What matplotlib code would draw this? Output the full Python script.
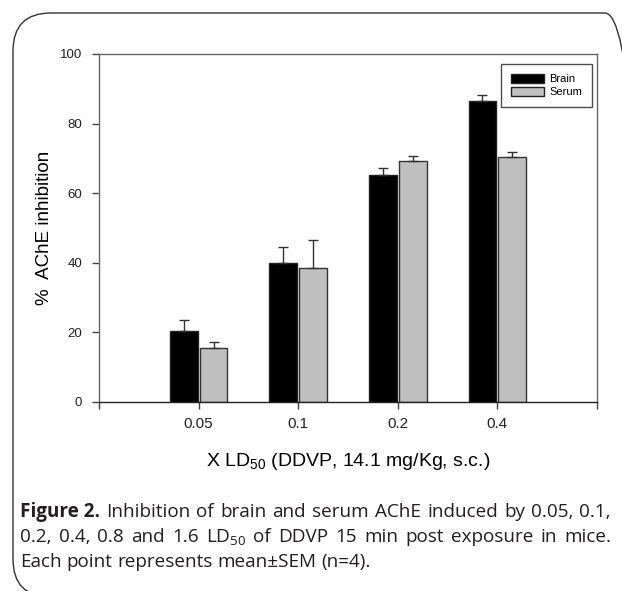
import matplotlib
matplotlib.use('Agg')
import matplotlib.pyplot as plt
from matplotlib.patches import FancyBboxPatch, Patch
from matplotlib.transforms import IdentityTransform
import numpy as np

# data
doses = ['0.05', '0.1', '0.2', '0.4']
brain = [20.3, 40.0, 65.2, 86.5]
brain_err = [3.2, 4.5, 2.0, 1.7]
serum = [15.5, 38.5, 69.3, 70.4]
serum_err = [1.7, 8.0, 1.4, 1.4]

caption = [
    ('Figure 2.', 'Inhibition of brain and serum AChE induced by 0.05, 0.1,', True),
    ('', r'0.2, 0.4, 0.8 and 1.6 LD$\mathregular{_{50}}$ of DDVP 15 min post exposure in mice.', True),
    ('', 'Each point represents mean±SEM (n=4).', False),
]

W, H = 622, 591
fig = plt.figure(figsize=(W/100, H/100), dpi=100)

# rounded frame round the whole figure (pixel coords)
frame = FancyBboxPatch((13, -6), 630, H - 13 + 6,
                       boxstyle='round,pad=0,rounding_size=38',
                       transform=IdentityTransform(), fill=False,
                       edgecolor='#333333', linewidth=1.0)
fig.patches.append(frame)

ax = fig.add_axes([99/W, 1-402/H, (597-99)/W, (402-54)/H])
x = np.arange(1, len(doses)+1)
bw = 0.28
ekw = dict(ecolor='#333333', elinewidth=1, capsize=3.7, capthick=1)
ax.bar(x - bw/2 - 0.01, brain, bw, color='black', edgecolor='#222222', linewidth=1,
       yerr=[np.zeros(4), brain_err], error_kw=ekw, label='Brain')
ax.bar(x + bw/2 + 0.01, serum, bw, color='#c0c0c0', edgecolor='#333333', linewidth=1,
       yerr=[np.zeros(4), serum_err], error_kw=ekw, label='Serum')

ax.set_xlim(0, 5)
ax.set_ylim(0, 100)
ax.set_xticks(range(0, 6))
ax.set_xticklabels([''] + doses + [''], fontsize=11, family='Liberation Sans', color='#222222')
ax.set_yticks(range(0, 101, 20))
ax.set_yticklabels([str(v) for v in range(0, 101, 20)], fontsize=9.5, family='Liberation Sans', color='#222222')
ax.tick_params(direction='out', length=5, width=1, color='#444444')
ax.tick_params(axis='x', pad=6)
ax.tick_params(axis='y', pad=7)
for name, s in ax.spines.items():
    s.set_color('#222222' if name == 'bottom' else '#666666')
    s.set_linewidth(1)
ax.set_ylabel('%  AChE inhibition', fontsize=13.5, family='Liberation Sans', labelpad=5)
ax.set_xlabel(r'X LD$\mathregular{_{50}}$ (DDVP, 14.1 mg/Kg, s.c.)', fontsize=14,
              family='Liberation Sans', labelpad=14)

leg = ax.legend(handles=[Patch(facecolor='black', edgecolor='#222222', label='Brain'),
                         Patch(facecolor='#c0c0c0', edgecolor='#222222', label='Serum')],
                loc='upper right', bbox_to_anchor=(493/498, 1-10/348), fancybox=False,
                edgecolor='#222222', prop=dict(family='Liberation Sans', size=8),
                handlelength=2.9, handleheight=0.9, borderpad=0.9, labelspacing=0.2,
                handletextpad=0.5, borderaxespad=0)
leg.get_frame().set_linewidth(1)

# caption, justified lines built word by word
cap_font = dict(family='Open Sans', fontsize=13.6, color='#231f20', va='baseline', ha='left')
fig.canvas.draw()
r = fig.canvas.get_renderer()
x0, x1 = 20, 611
baselines = [517, 542, 567]


def width_of(s, bold=False):
    t = fig.text(0, 0, s, fontweight='bold' if bold else 'normal', **cap_font)
    w = t.get_window_extent(renderer=r).width
    t.remove()
    return w


space = width_of('a b') - width_of('ab')
for (bold_part, rest, justify), yb in zip(caption, baselines):
    words = []
    if bold_part:
        words.append((bold_part, True))
    words += [(w, False) for w in rest.split(' ')]
    widths = [width_of(w, b) for w, b in words]
    gap = space
    if justify:
        gap = (x1 - x0 - sum(widths)) / (len(words) - 1)
        if gap < 0.4 * space:
            gap = 0.4 * space
    xp = x0
    for (w, b), wd in zip(words, widths):
        fig.text(xp/W, 1-yb/H, w, fontweight='bold' if b else 'normal', **cap_font)
        xp += wd + gap

fig.savefig('out.png', dpi=100)
